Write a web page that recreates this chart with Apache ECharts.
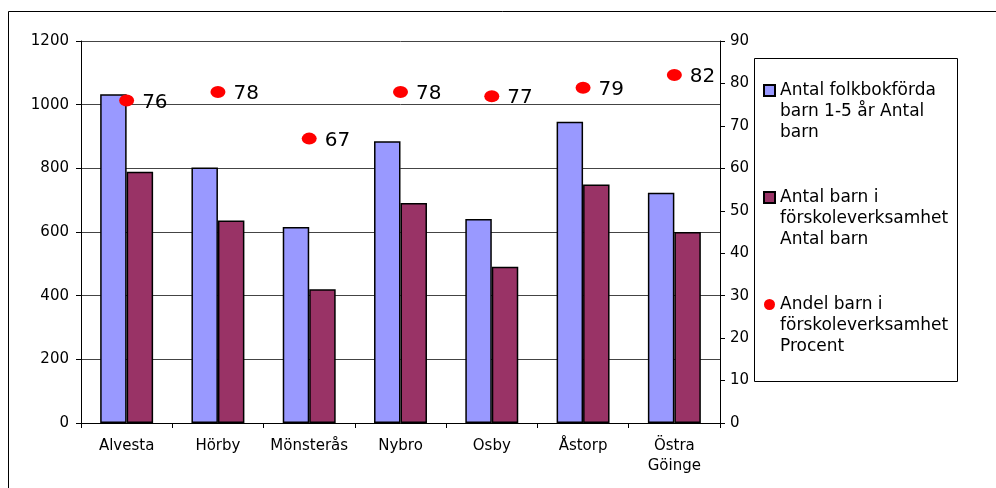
<!DOCTYPE html>
<html>
<head>
<meta charset="utf-8">
<script src="https://cdn.jsdelivr.net/npm/echarts@6/dist/echarts.min.js"></script>
<style>
html,body{margin:0;padding:0;background:#fff;}
#chart{width:996px;height:488px;}
</style>
</head>
<body>
<div id="chart"></div>
<script>
const categories = ['Alvesta', 'Hörby', 'Mönsterås', 'Nybro', 'Osby', 'Åstorp', 'Östra Göinge'];
const folkbokforda = [1033, 803, 616, 885, 641, 946, 723];
const forskola = [789, 636, 420, 691, 491, 749, 600];
const andelProcent = [76, 78, 67, 78, 77, 79, 82];
const leftTicks = [0, 1200, 200];
const rightTicks = [0, 90, 10];
const seriesNames = [
  'Antal folkbokförda\nbarn 1-5 år Antal\nbarn',
  'Antal barn i\nförskoleverksamhet\nAntal barn',
  'Andel barn i\nförskoleverksamhet\nProcent'
];

const FONT = 'DejaVu Sans';
const chart = echarts.init(document.getElementById('chart'), null, {renderer: 'canvas'});

chart.setOption({
  animation: false,
  backgroundColor: '#ffffff',
  textStyle: {fontFamily: FONT},
  graphic: [
    {type: 'rect', shape: {x: 8.5, y: 11.5, width: 1000, height: 500}, style: {fill: 'none', stroke: '#000', lineWidth: 1}, z: 0},
    {type: 'rect', shape: {x: 754.5, y: 58.5, width: 203, height: 323}, style: {fill: '#fff', stroke: '#000', lineWidth: 1}, z: 1}
  ],
  grid: {left: 81, top: 41, width: 639, height: 382, containLabel: false},
  legend: {
    orient: 'vertical',
    left: 763,
    top: 38,
    padding: 0,
    itemGap: 2,
    itemWidth: 11,
    itemHeight: 11,
    selectedMode: false,
    z: 5,
    formatter: name => '\n\n' + name,
    textStyle: {fontFamily: FONT, fontSize: 17, color: '#000', lineHeight: 21},
    data: [
      {name: seriesNames[0], icon: 'rect'},
      {name: seriesNames[1], icon: 'rect'},
      {name: seriesNames[2], icon: 'circle'}
    ]
  },
  xAxis: {
    type: 'category',
    data: categories,
    axisLine: {show: true, lineStyle: {color: '#000', width: 1}},
    axisTick: {show: true, alignWithLabel: false, length: 5, lineStyle: {color: '#000'}},
    axisLabel: {
      fontFamily: FONT, fontSize: 15, color: '#000', margin: 13, lineHeight: 20, interval: 0,
      formatter: v => v.replace(' ', '\n')
    },
    splitLine: {show: false}
  },
  yAxis: [
    {
      type: 'value', min: leftTicks[0], max: leftTicks[1], interval: leftTicks[2],
      position: 'left',
      axisLine: {show: true, lineStyle: {color: '#000', width: 1}},
      axisTick: {show: true, length: 5, inside: false, lineStyle: {color: '#000'}},
      axisLabel: {fontFamily: FONT, fontSize: 15, color: '#000', margin: 12, formatter: v => String(v)},
      splitLine: {show: true, lineStyle: {color: '#444', width: 1}}
    },
    {
      type: 'value', min: rightTicks[0], max: rightTicks[1], interval: rightTicks[2],
      position: 'right',
      axisLine: {show: true, lineStyle: {color: '#000', width: 1}},
      axisTick: {show: true, length: 5, inside: false, lineStyle: {color: '#000'}},
      axisLabel: {fontFamily: FONT, fontSize: 15, color: '#000', margin: 10, formatter: v => String(v)},
      splitLine: {show: false}
    }
  ],
  series: [
    {
      name: seriesNames[0], type: 'bar', yAxisIndex: 0, data: folkbokforda,
      barWidth: '29%', barGap: '0%',
      itemStyle: {color: '#9999FF', borderColor: '#000', borderWidth: 1.5}
    },
    {
      name: seriesNames[1], type: 'bar', yAxisIndex: 0, data: forskola,
      barWidth: '29%', barGap: '0%',
      itemStyle: {color: '#993366', borderColor: '#000', borderWidth: 1.5}
    },
    {
      name: seriesNames[2], type: 'scatter', yAxisIndex: 1, data: andelProcent,
      symbol: 'circle', symbolSize: [15, 12], z: 4,
      itemStyle: {color: '#FF0000', opacity: 1},
      label: {show: true, position: 'right', distance: 8, fontFamily: FONT, fontSize: 20, color: '#000', textBorderWidth: 0, offset: [0, 2]}
    }
  ]
});
</script>
</body>
</html>
